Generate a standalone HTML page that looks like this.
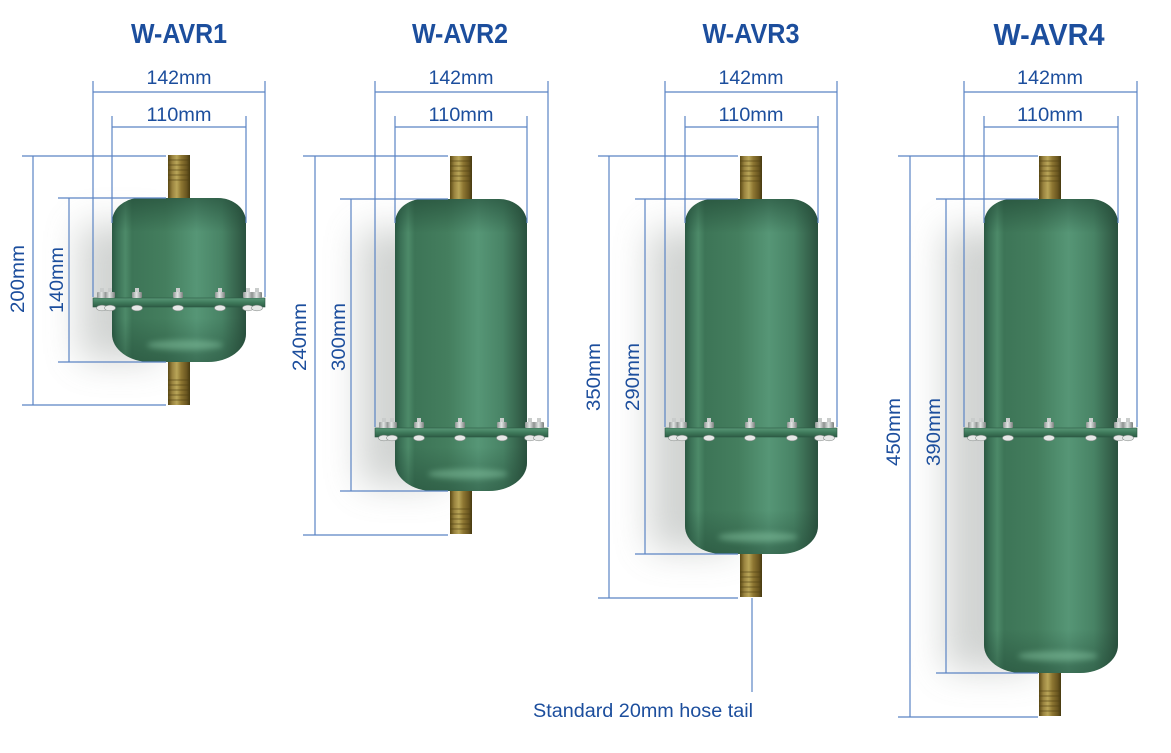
<!DOCTYPE html>
<html>
<head>
<meta charset="utf-8">
<style>
  html,body{margin:0;padding:0;background:#ffffff;}
  svg{display:block;}
  .t{font-family:"Liberation Sans",sans-serif;fill:#1c4e9d;}
  .ttl{font-weight:bold;font-size:28px;}
  .dim{font-size:19px;}
  .ln{stroke:#5b84c4;stroke-width:1.2;fill:none;}
</style>
</head>
<body>
<svg width="1171" height="753" viewBox="0 0 1171 753" xmlns="http://www.w3.org/2000/svg">
  <defs>
    <filter id="blur" x="-80%" y="-30%" width="260%" height="160%"><feGaussianBlur stdDeviation="18"/></filter>
    <filter id="sblur" x="-50%" y="-100%" width="200%" height="300%"><feGaussianBlur stdDeviation="3"/></filter>
    <linearGradient id="body" x1="0" y1="0" x2="1" y2="0">
      <stop offset="0" stop-color="#2a5842"/>
      <stop offset="0.04" stop-color="#3a7055"/>
      <stop offset="0.10" stop-color="#4d8a69"/>
      <stop offset="0.15" stop-color="#3d7557"/>
      <stop offset="0.40" stop-color="#447e5e"/>
      <stop offset="0.63" stop-color="#569676"/>
      <stop offset="0.82" stop-color="#488365"/>
      <stop offset="0.94" stop-color="#35624b"/>
      <stop offset="1" stop-color="#2a513f"/>
    </linearGradient>
    <linearGradient id="topdark" x1="0" y1="0" x2="0" y2="1">
      <stop offset="0" stop-color="#1d4331" stop-opacity="0.55"/>
      <stop offset="1" stop-color="#1d4331" stop-opacity="0"/>
    </linearGradient>
    <linearGradient id="botdark" x1="0" y1="0" x2="0" y2="1">
      <stop offset="0" stop-color="#1d4331" stop-opacity="0"/>
      <stop offset="1" stop-color="#1d4331" stop-opacity="0.45"/>
    </linearGradient>
    <linearGradient id="brass" x1="0" y1="0" x2="1" y2="0">
      <stop offset="0" stop-color="#5a4814"/>
      <stop offset="0.2" stop-color="#9a8440"/>
      <stop offset="0.4" stop-color="#b9a558"/>
      <stop offset="0.6" stop-color="#8e7732"/>
      <stop offset="0.85" stop-color="#6a5620"/>
      <stop offset="1" stop-color="#463a10"/>
    </linearGradient>
    <linearGradient id="flange" x1="0" y1="0" x2="0" y2="1">
      <stop offset="0" stop-color="#5a9878"/>
      <stop offset="0.5" stop-color="#3f7a5b"/>
      <stop offset="1" stop-color="#2d5c45"/>
    </linearGradient>
    <linearGradient id="nut" x1="0" y1="0" x2="1" y2="0">
      <stop offset="0" stop-color="#8e9391"/>
      <stop offset="0.45" stop-color="#e2e5e4"/>
      <stop offset="1" stop-color="#7c817f"/>
    </linearGradient>
    <g id="bolt">
      <rect x="-2" y="-14" width="4" height="4" fill="#c9cccb"/>
      <rect x="-5" y="-10" width="10" height="6" rx="1" fill="url(#nut)"/>
      <ellipse cx="0" cy="6" rx="5.5" ry="2.8" fill="#e6e8e7" stroke="#8d9290" stroke-width="0.6"/>
    </g>
    <g id="bolts">
      <use href="#bolt" x="9"/>
      <use href="#bolt" x="17"/>
      <use href="#bolt" x="44"/>
      <use href="#bolt" x="85"/>
      <use href="#bolt" x="127"/>
      <use href="#bolt" x="155"/>
      <use href="#bolt" x="164"/>
    </g>
    <g id="hoseTop">
      <rect x="0" y="0" width="22" height="44" fill="url(#brass)"/>
      <g stroke="#4e3f12" stroke-width="1" opacity="0.6">
        <line x1="0" y1="5" x2="22" y2="5"/>
        <line x1="0" y1="10" x2="22" y2="10"/>
        <line x1="0" y1="15" x2="22" y2="15"/>
        <line x1="0" y1="20" x2="22" y2="20"/>
        <line x1="0" y1="25" x2="22" y2="25"/>
      </g>
    </g>
    <g id="hoseBot">
      <rect x="0" y="0" width="22" height="44" fill="url(#brass)"/>
      <g stroke="#4e3f12" stroke-width="1" opacity="0.6">
        <line x1="0" y1="19" x2="22" y2="19"/>
        <line x1="0" y1="24" x2="22" y2="24"/>
        <line x1="0" y1="29" x2="22" y2="29"/>
        <line x1="0" y1="34" x2="22" y2="34"/>
        <line x1="0" y1="39" x2="22" y2="39"/>
      </g>
    </g>
  </defs>

  <rect width="1171" height="753" fill="#ffffff"/>

  <!-- shadows -->
  <g filter="url(#blur)" fill="#8c938f" opacity="0.4">
    <rect x="80" y="225" width="80" height="135"/>
    <rect x="360" y="230" width="85" height="255"/>
    <rect x="650" y="230" width="85" height="320"/>
    <rect x="945" y="230" width="90" height="440"/>
  </g>

  <!-- ============ TITLES ============ -->
  <text class="t ttl" x="179" y="43" text-anchor="middle" textLength="96" lengthAdjust="spacingAndGlyphs">W-AVR1</text>
  <text class="t ttl" x="460" y="43" text-anchor="middle" textLength="96" lengthAdjust="spacingAndGlyphs">W-AVR2</text>
  <text class="t ttl" x="751" y="43" text-anchor="middle" textLength="97" lengthAdjust="spacingAndGlyphs">W-AVR3</text>
  <text class="t ttl" x="1049" y="45" text-anchor="middle" style="font-size:31px" textLength="111" lengthAdjust="spacingAndGlyphs">W-AVR4</text>

  <!-- ============ TANK 1 ============ -->
  <use href="#hoseTop" x="168" y="155"/>
  <use href="#hoseBot" x="168" y="361"/>
  <path d="M112,222 A28,24 0 0 1 140,198 H218 A28,24 0 0 1 246,222 V334 A38,28 0 0 1 208,362 H150 A38,28 0 0 1 112,334 Z" fill="url(#body)"/>
  <path d="M112,222 A28,24 0 0 1 140,198 H218 A28,24 0 0 1 246,222 V232 H112 Z" fill="url(#topdark)"/>
  <path d="M112,318 V334 A38,28 0 0 0 150,362 H208 A38,28 0 0 0 246,334 V318 Z" fill="url(#botdark)"/>
  <ellipse cx="185" cy="345" rx="38" ry="5" fill="#8fd0ac" opacity="0.45" filter="url(#sblur)"/>
  <rect x="93" y="298" width="172" height="9" fill="url(#flange)" stroke="#2b5843" stroke-width="0.6"/>
  <use href="#bolts" x="93" y="302"/>

  <!-- ============ TANK 2 ============ -->
  <use href="#hoseTop" x="450" y="156"/>
  <use href="#hoseBot" x="450" y="490"/>
  <path d="M395,223 A28,24 0 0 1 423,199 H499 A28,24 0 0 1 527,223 V463 A38,28 0 0 1 489,491 H433 A38,28 0 0 1 395,463 Z" fill="url(#body)"/>
  <path d="M395,223 A28,24 0 0 1 423,199 H499 A28,24 0 0 1 527,223 V233 H395 Z" fill="url(#topdark)"/>
  <path d="M395,447 V463 A38,28 0 0 0 433,491 H489 A38,28 0 0 0 527,463 V447 Z" fill="url(#botdark)"/>
  <ellipse cx="468" cy="474" rx="40" ry="5" fill="#8fd0ac" opacity="0.45" filter="url(#sblur)"/>
  <rect x="375" y="428" width="173" height="9" fill="url(#flange)" stroke="#2b5843" stroke-width="0.6"/>
  <use href="#bolts" x="375" y="432"/>

  <!-- ============ TANK 3 ============ -->
  <use href="#hoseTop" x="740" y="156"/>
  <use href="#hoseBot" x="740" y="553"/>
  <path d="M685,223 A28,24 0 0 1 713,199 H790 A28,24 0 0 1 818,223 V526 A38,28 0 0 1 780,554 H723 A38,28 0 0 1 685,526 Z" fill="url(#body)"/>
  <path d="M685,223 A28,24 0 0 1 713,199 H790 A28,24 0 0 1 818,223 V233 H685 Z" fill="url(#topdark)"/>
  <path d="M685,510 V526 A38,28 0 0 0 723,554 H780 A38,28 0 0 0 818,526 V510 Z" fill="url(#botdark)"/>
  <ellipse cx="758" cy="537" rx="40" ry="5" fill="#8fd0ac" opacity="0.45" filter="url(#sblur)"/>
  <rect x="665" y="428" width="172" height="9" fill="url(#flange)" stroke="#2b5843" stroke-width="0.6"/>
  <use href="#bolts" x="665" y="432"/>

  <!-- ============ TANK 4 ============ -->
  <use href="#hoseTop" x="1039" y="156"/>
  <use href="#hoseBot" x="1039" y="672"/>
  <path d="M984,223 A28,24 0 0 1 1012,199 H1090 A28,24 0 0 1 1118,223 V645 A38,28 0 0 1 1080,673 H1022 A38,28 0 0 1 984,645 Z" fill="url(#body)"/>
  <path d="M984,223 A28,24 0 0 1 1012,199 H1090 A28,24 0 0 1 1118,223 V233 H984 Z" fill="url(#topdark)"/>
  <path d="M984,629 V645 A38,28 0 0 0 1022,673 H1080 A38,28 0 0 0 1118,645 V629 Z" fill="url(#botdark)"/>
  <ellipse cx="1058" cy="656" rx="40" ry="5" fill="#8fd0ac" opacity="0.45" filter="url(#sblur)"/>
  <rect x="964" y="428" width="173" height="9" fill="url(#flange)" stroke="#2b5843" stroke-width="0.6"/>
  <use href="#bolts" x="964" y="432"/>

  <!-- ============ DIMENSION LINES ============ -->
  <g class="ln">
    <!-- T1 -->
    <line x1="93" y1="81" x2="93" y2="297"/><line x1="265" y1="81" x2="265" y2="297"/>
    <line x1="93" y1="92" x2="265" y2="92"/>
    <line x1="112" y1="116" x2="112" y2="223"/><line x1="246" y1="116" x2="246" y2="223"/>
    <line x1="112" y1="127" x2="246" y2="127"/>
    <line x1="22" y1="156" x2="166" y2="156"/><line x1="22" y1="405" x2="166" y2="405"/>
    <line x1="33" y1="156" x2="33" y2="405"/>
    <line x1="58" y1="198" x2="166" y2="198"/><line x1="58" y1="362" x2="166" y2="362"/>
    <line x1="69" y1="198" x2="69" y2="362"/>
    <!-- T2 -->
    <line x1="375" y1="81" x2="375" y2="427"/><line x1="548" y1="81" x2="548" y2="427"/>
    <line x1="375" y1="92" x2="548" y2="92"/>
    <line x1="395" y1="116" x2="395" y2="223"/><line x1="527" y1="116" x2="527" y2="223"/>
    <line x1="395" y1="127" x2="527" y2="127"/>
    <line x1="303" y1="156" x2="448" y2="156"/><line x1="303" y1="535" x2="448" y2="535"/>
    <line x1="315" y1="156" x2="315" y2="535"/>
    <line x1="340" y1="199" x2="448" y2="199"/><line x1="340" y1="491" x2="448" y2="491"/>
    <line x1="351" y1="199" x2="351" y2="491"/>
    <!-- T3 -->
    <line x1="665" y1="81" x2="665" y2="427"/><line x1="837" y1="81" x2="837" y2="427"/>
    <line x1="665" y1="92" x2="837" y2="92"/>
    <line x1="685" y1="116" x2="685" y2="223"/><line x1="818" y1="116" x2="818" y2="223"/>
    <line x1="685" y1="127" x2="818" y2="127"/>
    <line x1="598" y1="156" x2="738" y2="156"/><line x1="598" y1="598" x2="738" y2="598"/>
    <line x1="609" y1="156" x2="609" y2="598"/>
    <line x1="635" y1="199" x2="738" y2="199"/><line x1="635" y1="554" x2="738" y2="554"/>
    <line x1="645" y1="199" x2="645" y2="554"/>
    <line x1="752" y1="598" x2="752" y2="692"/>
    <!-- T4 -->
    <line x1="964" y1="81" x2="964" y2="427"/><line x1="1137" y1="81" x2="1137" y2="427"/>
    <line x1="964" y1="92" x2="1137" y2="92"/>
    <line x1="984" y1="116" x2="984" y2="223"/><line x1="1118" y1="116" x2="1118" y2="223"/>
    <line x1="984" y1="127" x2="1118" y2="127"/>
    <line x1="898" y1="156" x2="1038" y2="156"/><line x1="898" y1="717" x2="1038" y2="717"/>
    <line x1="910" y1="156" x2="910" y2="717"/>
    <line x1="936" y1="199" x2="1038" y2="199"/><line x1="936" y1="673" x2="1038" y2="673"/>
    <line x1="946" y1="199" x2="946" y2="673"/>
  </g>

  <!-- ============ DIMENSION LABELS ============ -->
  <g class="t dim" text-anchor="middle">
    <text x="179" y="84" textLength="65" lengthAdjust="spacingAndGlyphs">142mm</text>
    <text x="179" y="121" textLength="65" lengthAdjust="spacingAndGlyphs">110mm</text>
    <text x="461" y="84" textLength="65" lengthAdjust="spacingAndGlyphs">142mm</text>
    <text x="461" y="121" textLength="65" lengthAdjust="spacingAndGlyphs">110mm</text>
    <text x="751" y="84" textLength="65" lengthAdjust="spacingAndGlyphs">142mm</text>
    <text x="751" y="121" textLength="65" lengthAdjust="spacingAndGlyphs">110mm</text>
    <text x="1050" y="84" textLength="66" lengthAdjust="spacingAndGlyphs">142mm</text>
    <text x="1050" y="121" textLength="66" lengthAdjust="spacingAndGlyphs">110mm</text>

    <text transform="translate(24,279) rotate(-90)" textLength="68" lengthAdjust="spacingAndGlyphs">200mm</text>
    <text transform="translate(63,280) rotate(-90)" textLength="66" lengthAdjust="spacingAndGlyphs">140mm</text>
    <text transform="translate(306,337) rotate(-90)" textLength="68" lengthAdjust="spacingAndGlyphs">240mm</text>
    <text transform="translate(345,337) rotate(-90)" textLength="68" lengthAdjust="spacingAndGlyphs">300mm</text>
    <text transform="translate(600,377) rotate(-90)" textLength="68" lengthAdjust="spacingAndGlyphs">350mm</text>
    <text transform="translate(639,377) rotate(-90)" textLength="68" lengthAdjust="spacingAndGlyphs">290mm</text>
    <text transform="translate(900,432) rotate(-90)" textLength="68" lengthAdjust="spacingAndGlyphs">450mm</text>
    <text transform="translate(940,432) rotate(-90)" textLength="68" lengthAdjust="spacingAndGlyphs">390mm</text>

    <text x="643" y="717" textLength="220" lengthAdjust="spacingAndGlyphs">Standard 20mm hose tail</text>
  </g>
</svg>
</body>
</html>
